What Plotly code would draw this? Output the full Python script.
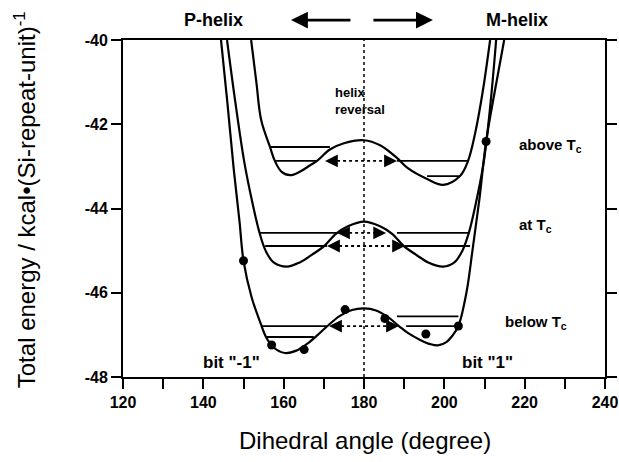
import plotly.graph_objects as go

# ---- data ----
below_x = [144.4, 146.0, 147.5, 149.0, 150.0, 152.0, 154.5, 155.6, 157.5, 160.3, 163.0, 166.0, 168.5,
           170.9, 174.0, 177.0, 180.0, 183.0, 186.0, 188.7, 191.0, 194.0, 196.5, 198.4, 200.5, 202.0,
           203.5, 205.5, 207.0, 208.7, 210.4, 212.6, 214.9]
below_y = [-40.0, -41.5, -43.0, -44.3, -45.24, -46.1, -46.79, -47.05, -47.3, -47.43, -47.38, -47.2, -47.0,
           -46.79, -46.55, -46.41, -46.37, -46.42, -46.58, -46.79, -46.96, -47.12, -47.22, -47.25, -47.17, -47.02,
           -46.79, -46.0, -45.0, -43.8, -42.41, -41.2, -40.0]

at_x = [145.9, 148.0, 150.2, 152.3, 154.0, 155.5, 157.5, 160.8, 164.0, 167.0, 170.0, 173.0, 176.0, 180.0,
        184.0, 187.0, 190.0, 193.0, 196.0, 199.7, 202.5, 204.5, 206.1, 207.8, 209.8, 211.5, 212.9]
at_y = [-40.0, -41.5, -42.9, -43.9, -44.58, -45.0, -45.28, -45.38, -45.28, -45.1, -44.9, -44.6, -44.42, -44.31,
        -44.42, -44.6, -44.9, -45.1, -45.28, -45.38, -45.28, -45.0, -44.58, -43.9, -42.9, -41.5, -40.0]

above_x = [151.9, 153.2, 154.4, 156.6, 157.8, 159.5, 161.6, 164.0, 166.5, 168.3, 171.5, 175.0, 180.0,
           184.0, 188.2, 191.0, 195.7, 199.7, 203.9, 205.9, 207.7, 209.6, 211.4]
above_y = [-40.0, -41.0, -41.9, -42.54, -42.87, -43.13, -43.21, -43.13, -42.98, -42.87, -42.6, -42.45, -42.38,
           -42.5, -42.8, -43.05, -43.3, -43.44, -43.23, -42.87, -42.2, -41.2, -40.0]

dots_x = [150.0, 157.0, 165.1, 175.3, 185.2, 195.4, 203.5, 210.4]
dots_y = [-45.24, -47.24, -47.35, -46.40, -46.61, -46.98, -46.79, -42.41]

# energy level segments: start angle, end angle, energy
lev_x0 = [156.6, 157.8, 188.2, 195.7, 154.0, 188.2, 155.4, 190.2, 154.6, 155.6, 188.2, 190.5]
lev_x1 = [171.5, 168.3, 205.9, 203.9, 173.3, 206.1, 170.8, 206.4, 170.9, 167.5, 203.5, 203.5]
lev_e = [-42.54, -42.87, -42.87, -43.23, -44.58, -44.58, -44.89, -44.89, -46.79, -47.05, -46.56, -46.79]

# dotted double arrows: left head, right head, energy
arr_x0 = [170.3, 173.3, 170.8, 171.3]
arr_x1 = [188.2, 185.5, 190.2, 188.7]
arr_e = [-42.87, -44.58, -44.89, -46.79]

xticks = [120, 140, 160, 180, 200, 220, 240]
yticks = [-40, -42, -44, -46, -48]

font = "Liberation Sans, Arial, sans-serif"

fig = go.Figure()

# vertical dotted line at helix reversal
fig.add_trace(go.Scatter(x=[180, 180], y=[-48, -40], mode="lines",
                         line=dict(color="black", width=1.5, dash="dot"), showlegend=False))

for xs, ys in [(above_x, above_y), (at_x, at_y), (below_x, below_y)]:
    fig.add_trace(go.Scatter(x=xs, y=ys, mode="lines", line=dict(color="black", width=2.2, shape="spline",
                                                                 smoothing=1.0),
                             showlegend=False))

for x0, x1, e in zip(lev_x0, lev_x1, lev_e):
    fig.add_trace(go.Scatter(x=[x0, x1], y=[e, e], mode="lines", line=dict(color="black", width=1.8),
                             showlegend=False))

for x0, x1, e in zip(arr_x0, arr_x1, arr_e):
    fig.add_trace(go.Scatter(x=[x0 + 1.5, x1 - 1.5], y=[e, e], mode="lines",
                             line=dict(color="black", width=1.8, dash="dot"), showlegend=False))
    for xh, xt in [(x0, x0 + 2.5), (x1, x1 - 2.5)]:
        fig.add_annotation(x=xh, y=e, ax=xt, ay=e, xref="x", yref="y", axref="x", ayref="y",
                           text="", showarrow=True, arrowhead=2, arrowsize=1.6, arrowwidth=1.6,
                           arrowcolor="black")

fig.add_trace(go.Scatter(x=dots_x, y=dots_y, mode="markers", marker=dict(color="black", size=9),
                         showlegend=False, cliponaxis=False))

# top helix-direction arrows (paper coords, above the plot)
fig.add_annotation(x=0.3485, y=1.059, xref="paper", yref="paper", ax=61, ay=0,
                   text="", showarrow=True, arrowhead=2, arrowsize=1.3, arrowwidth=2.6, arrowcolor="black")
fig.add_annotation(x=0.643, y=1.059, xref="paper", yref="paper", ax=-61, ay=0,
                   text="", showarrow=True, arrowhead=2, arrowsize=1.3, arrowwidth=2.6, arrowcolor="black")
fig.add_annotation(x=0.187, y=1.059, xref="paper", yref="paper", text="<b>P-helix</b>", showarrow=False,
                   xanchor="center", yanchor="middle", font=dict(family=font, size=18, color="black"))
fig.add_annotation(x=0.817, y=1.059, xref="paper", yref="paper", text="<b>M-helix</b>", showarrow=False,
                   xanchor="center", yanchor="middle", font=dict(family=font, size=18, color="black"))

texts = [
    ("<b>helix<br>reversal</b>", 172.2, -41.45, 13, "left"),
    ("<b>above T<sub>c</sub></b>", 218.1, -42.5, 15, "left"),
    ("<b>at T<sub>c</sub></b>", 218.1, -44.4, 15, "left"),
    ("<b>below T<sub>c</sub></b>", 214.6, -46.7, 15, "left"),
    ("<b>bit \"-1\"</b>", 147.1, -47.65, 17, "center"),
    ("<b>bit \"1\"</b>", 203.9, -47.65, 17, "left"),
]
for t, x, y, s, anc in texts:
    fig.add_annotation(x=x, y=y, xref="x", yref="y", text=t, showarrow=False, xanchor=anc,
                       yanchor="middle", align="left", font=dict(family=font, size=s, color="black"))

fig.add_annotation(x=0.502, y=-0.187, xref="paper", yref="paper", text="Dihedral angle (degree)",
                   xanchor="center", yanchor="middle",
                   showarrow=False, font=dict(family=font, size=24, color="black"))
fig.add_annotation(x=-0.203, y=0.525, xref="paper", yref="paper",
                   text="Total energy / kcal\u2022(Si-repeat-unit)<sup>-1</sup>", textangle=-90,
                   xanchor="center", yanchor="middle",
                   showarrow=False, font=dict(family=font, size=24, color="black"))

fig.update_xaxes(range=[120, 240], showline=True, linecolor="black", linewidth=1.8, mirror=True,
                 ticks="outside", ticklen=10, tickwidth=1.5, tickcolor="black", automargin=False,
                 tickvals=list(range(120, 241, 10)),
                 ticktext=["<b>%d</b>" % v if v in xticks else "" for v in range(120, 241, 10)],
                 tickfont=dict(family=font, size=16, color="black"), showgrid=False, zeroline=False)
fig.update_yaxes(range=[-48, -40], showline=True, linecolor="black", linewidth=1.8, mirror="ticks",
                 ticks="outside", ticklen=10, tickwidth=1.5, tickcolor="black", automargin=False,
                 tickvals=yticks, ticktext=["<b>%d</b>" % v for v in yticks],
                 tickfont=dict(family=font, size=16, color="black"), showgrid=False, zeroline=False)

fig.update_layout(width=619, height=462, margin=dict(l=123, r=14, t=40, b=85),
                  plot_bgcolor="white", paper_bgcolor="white", showlegend=False)

fig.write_html("out.html")
